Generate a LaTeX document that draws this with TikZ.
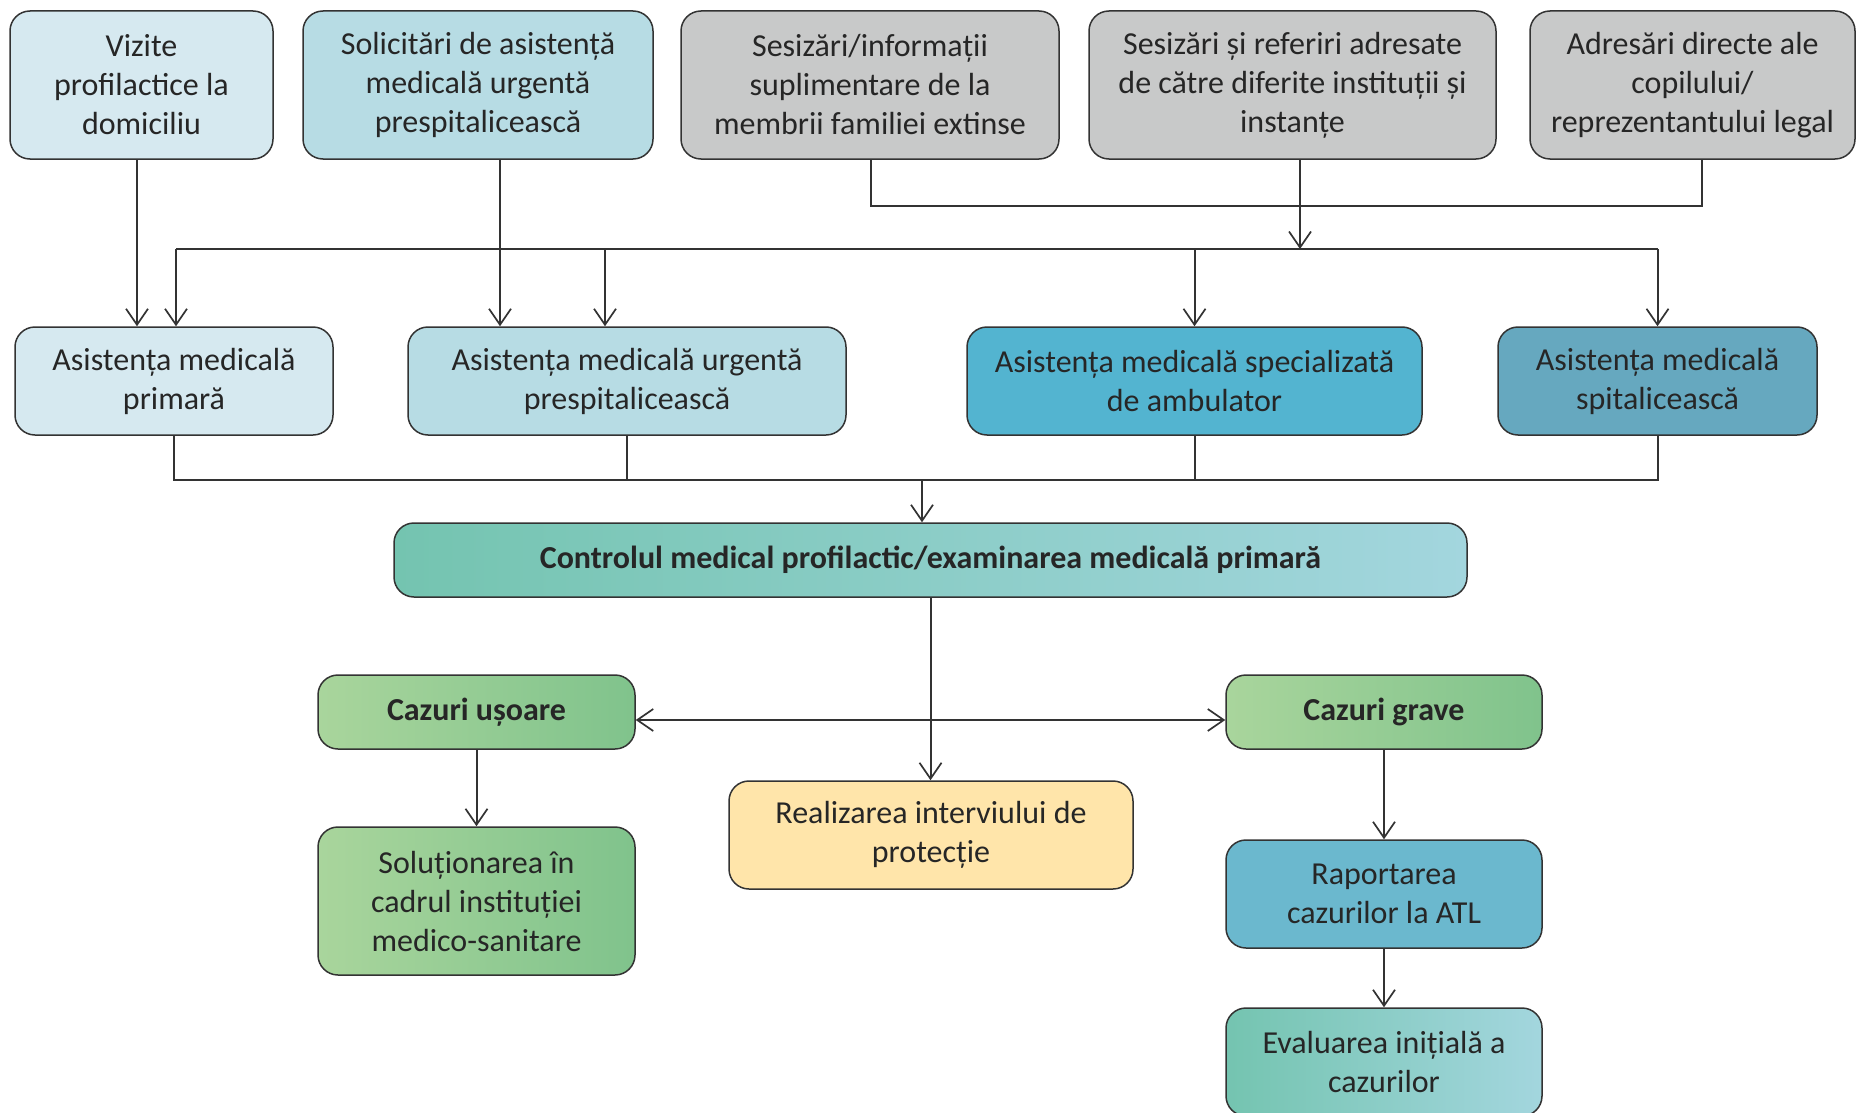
\documentclass[tikz,border=0pt]{standalone}
\usepackage{fontspec}
\setmainfont{Carlito}
\usetikzlibrary{arrows.meta,calc}
\definecolor{txt}{HTML}{262626}
\definecolor{ln}{HTML}{333333}
\definecolor{cLight}{HTML}{D6E9F0}
\definecolor{cMid}{HTML}{B7DCE4}
\definecolor{cGray}{HTML}{C8C9C9}
\definecolor{cSpec}{HTML}{53B4D0}
\definecolor{cSpit}{HTML}{66A8BF}
\definecolor{cTealL}{HTML}{74C4B0}
\definecolor{cTealR}{HTML}{A3D6DE}
\definecolor{cGreenL}{HTML}{A9D59C}
\definecolor{cGreenR}{HTML}{80C38C}
\definecolor{cYellow}{HTML}{FFE5AA}
\definecolor{cRap}{HTML}{6BB8CE}
\tikzset{
  bx/.style={draw=ln, line width=1.5pt, rounded corners=20pt, align=center,
    text=txt, inner sep=0pt, font=\fontsize{32}{39}\selectfont},
  ln/.style={draw=ln, line width=2pt},
  arr/.style={ln, -{Straight Barb[length=16pt,width=22pt,line width=1.7pt]}},
  arrr/.style={ln, {Straight Barb[length=16pt,width=22pt,line width=1.7pt]}-{Straight Barb[length=16pt,width=22pt,line width=1.7pt]}},
  tealg/.style={left color=cTealL, right color=cTealR},
  greeng/.style={left color=cGreenL, right color=cGreenR},
}
\begin{document}
\begin{tikzpicture}[x=1pt,y=-1pt]
\useasboundingbox (0,0) rectangle (1857,1113);
\fill[white] (0,0) rectangle (1857,1113);
\clip (0,0) rectangle (1857,1113);
% top row
\node[bx, fill=cLight, minimum width=263pt, minimum height=148pt] (v1) at (141.5,85) {Vizite\\profilactice la\\domiciliu};
\node[bx, fill=cMid, minimum width=350pt, minimum height=148pt] (v2) at (478,85) {Solicitări de asistență\\medicală urgentă\\prespitalicească};
\node[bx, fill=cGray, minimum width=378pt, minimum height=148pt] (v3) at (870,85) {Sesizări/informații\\suplimentare de la\\membrii familiei extinse};
\node[bx, fill=cGray, minimum width=407pt, minimum height=148pt] (v4) at (1292.5,85) {Sesizări și referiri adresate\\de către diferite instituții și\\instanțe};
\node[bx, fill=cGray, minimum width=325pt, minimum height=148pt] (v5) at (1692.5,85) {Adresări directe ale\\copilului/\\reprezentantului legal};
% middle row
\node[bx, fill=cLight, minimum width=318pt, minimum height=108pt] (mA) at (174,381) {Asistența medicală\\primară};
\node[bx, fill=cMid, minimum width=438pt, minimum height=108pt] (mB) at (627,381) {Asistența medicală urgentă\\prespitalicească};
\node[bx, fill=cSpec, minimum width=455pt, minimum height=108pt] (mC) at (1194.5,381) {Asistența medicală specializată\\de ambulator};
\node[bx, fill=cSpit, minimum width=319pt, minimum height=108pt] (mD) at (1657.5,381) {Asistența medicală\\spitalicească};
% control
\node[bx, tealg, minimum width=1073pt, minimum height=74pt] (ctrl) at (930.5,560) {\bfseries Controlul medical profilactic/examinarea medicală primară};
% lower
\node[bx, greeng, minimum width=317pt, minimum height=74pt] (cu) at (476.5,712) {\bfseries Cazuri ușoare};
\node[bx, greeng, minimum width=316pt, minimum height=74pt] (cg) at (1384,712) {\bfseries Cazuri grave};
\node[bx, greeng, minimum width=317pt, minimum height=148pt] (sol) at (476.5,901) {Soluționarea în\\cadrul instituției\\medico-sanitare};
\node[bx, fill=cYellow, minimum width=404pt, minimum height=108pt] (real) at (931,835) {Realizarea interviului de\\protecție};
\node[bx, fill=cRap, minimum width=316pt, minimum height=108pt] (rap) at (1384,894) {Raportarea\\cazurilor la ATL};
\node[bx, tealg, minimum width=316pt, minimum height=108pt] (ev) at (1384,1062) {Evaluarea inițială a\\cazurilor};
% junction coordinates
\coordinate (tm) at (0,206);
\coordinate (bus) at (0,249);
\coordinate (low) at (0,480);
\coordinate (v1b) at ([xshift=-4.5pt]v1.south);
\coordinate (v2b) at ([xshift=22pt]v2.south);
\coordinate (v3b) at ([xshift=1pt]v3.south);
\coordinate (v4b) at ([xshift=7.5pt]v4.south);
\coordinate (v5b) at ([xshift=9.5pt]v5.south);
\coordinate (mAin) at ([xshift=2pt]mA.north);
\coordinate (mBin) at ([xshift=-22pt]mB.north);
\coordinate (ctin) at ([xshift=-8.5pt]ctrl.north);
% connectors
\draw[arr] (v1b) -- (v1b |- mA.north);
\draw[arr] (v2b) -- (v2b |- mB.north);
\draw[ln] (v3b) |- (v5b |- tm) -- (v5b);
\draw[arr] (v4b) -- (v4b |- bus);
\draw[ln] (mAin |- bus) -- (mD.north |- bus);
\draw[arr] (mAin |- bus) -- (mAin);
\draw[arr] (mBin |- bus) -- (mBin);
\draw[arr] (mC.north |- bus) -- (mC.north);
\draw[arr] (mD.north |- bus) -- (mD.north);
\draw[ln] (mA.south) |- (mD.south |- low) -- (mD.south);
\draw[ln] (mB.south) -- (mB.south |- low);
\draw[ln] (mC.south) -- (mC.south |- low);
\draw[arr] (ctin |- low) -- (ctin);
\draw[arr] (ctrl.south) -- (ctrl.south |- real.north);
\draw[arrr] ([yshift=-8pt]cu.east) -- ([yshift=-8pt]cg.west);
\draw[arr] (cu.south) -- (sol.north);
\draw[arr] (cg.south) -- (rap.north);
\draw[arr] (rap.south) -- (ev.north);
\end{tikzpicture}
\end{document}
